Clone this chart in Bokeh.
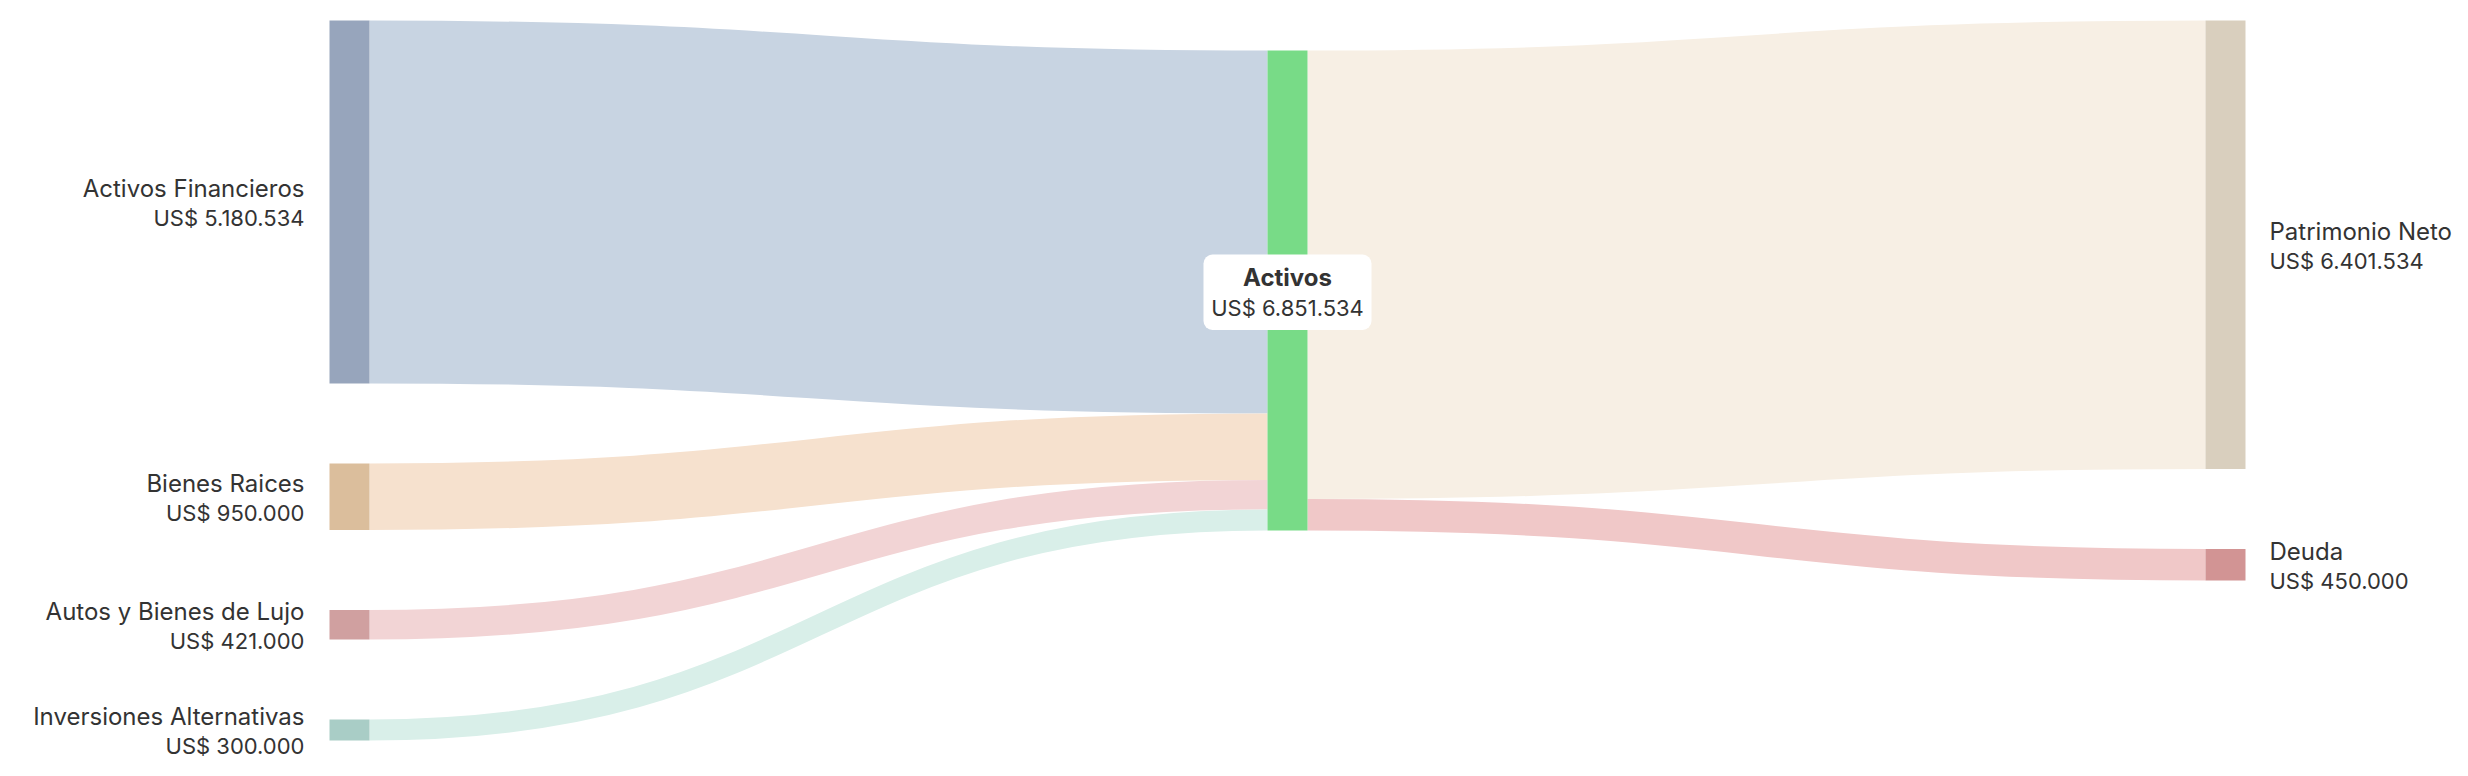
from bokeh.plotting import figure
from bokeh.models import Range1d, BoxAnnotation, ColumnDataSource
from bokeh.core.properties import value
from bokeh.embed import file_html
from bokeh.resources import INLINE

# ---- data ----
left_names = ["Activos Financieros", "Bienes Raices", "Autos y Bienes de Lujo", "Inversiones Alternativas"]
left_values = [5180534, 950000, 421000, 300000]
hub_name = "Activos"
right_names = ["Patrimonio Neto", "Deuda"]
right_values = [6401534, 450000]

left_node_colors = ["#97a5bc", "#dbbe9c", "#d0a0a0", "#a9cdc6"]
left_link_colors = ["#c8d4e2", "#f6e1ce", "#f2d4d5", "#d9efe9"]
hub_color = "#78db87"
right_node_colors = ["#d9cfbe", "#d29494"]
right_link_colors = ["#f7efe4", "#f0c8c8"]

# ---- layout (screen-like coordinates) ----
TOP, BOTTOM = 20, 740
PAD = 80
NODE_W = 40
COL_X = [329, 1267, 2205]
HUB_TOP = 50
FONT = value("Inter")
NAME_SIZE = "24px"
VAL_SIZE = "22px"
TXT = "#333333"
NAME_DY, VAL_DY = -13.5, 16.5


def fmt(v):
    return "US$ " + f"{v:,}".replace(",", ".")


total = sum(left_values)
k = (BOTTOM - TOP - PAD * (len(left_values) - 1)) / total


def stack(vals, top):
    y = top
    out = []
    for v in vals:
        h = v * k
        out.append((y, y + h))
        y = y + h + PAD
    return out


left_pos = stack(left_values, TOP)
right_pos = stack(right_values, TOP)
hub_pos = (HUB_TOP, HUB_TOP + total * k)

p = figure(width=2452, height=760, x_range=Range1d(0, 2452), y_range=Range1d(760, 0),
           output_backend="svg", toolbar_location=None, min_border=0,
           x_axis_location=None, y_axis_location=None)
p.grid.visible = False
p.outline_line_color = None
p.background_fill_color = "white"
p.border_fill_color = "white"

# ---- links ----
lx0, lx1, ly0, ly1, lcx0, lcx1, lcy0, lcy1, lw, lc = [], [], [], [], [], [], [], [], [], []
y_in = hub_pos[0]
for (a, b), v, c in zip(left_pos, left_values, left_link_colors):
    w = v * k
    xs = COL_X[0] + NODE_W
    xt = COL_X[1]
    ys = (a + b) / 2
    yt = y_in + w / 2
    y_in += w
    xm = (xs + xt) / 2
    lx0.append(xs); lx1.append(xt); ly0.append(ys); ly1.append(yt)
    lcx0.append(xm); lcx1.append(xm); lcy0.append(ys); lcy1.append(yt)
    lw.append(w); lc.append(c)

y_out = hub_pos[0]
for (a, b), v, c in zip(right_pos, right_values, right_link_colors):
    w = v * k
    xs = COL_X[1] + NODE_W
    xt = COL_X[2]
    ys = y_out + w / 2
    y_out += w
    yt = (a + b) / 2
    xm = (xs + xt) / 2
    lx0.append(xs); lx1.append(xt); ly0.append(ys); ly1.append(yt)
    lcx0.append(xm); lcx1.append(xm); lcy0.append(ys); lcy1.append(yt)
    lw.append(w); lc.append(c)

links = ColumnDataSource(dict(x0=lx0, y0=ly0, x1=lx1, y1=ly1, cx0=lcx0, cy0=lcy0,
                              cx1=lcx1, cy1=lcy1, w=lw, c=lc))
p.bezier(x0="x0", y0="y0", x1="x1", y1="y1", cx0="cx0", cy0="cy0", cx1="cx1", cy1="cy1",
         line_width="w", line_color="c", line_cap="butt", source=links)

# ---- nodes ----
nl, nr, nt, nb, nc = [], [], [], [], []
for (a, b), c in zip(left_pos, left_node_colors):
    nl.append(COL_X[0]); nr.append(COL_X[0] + NODE_W); nt.append(a); nb.append(b); nc.append(c)
nl.append(COL_X[1]); nr.append(COL_X[1] + NODE_W); nt.append(hub_pos[0]); nb.append(hub_pos[1]); nc.append(hub_color)
for (a, b), c in zip(right_pos, right_node_colors):
    nl.append(COL_X[2]); nr.append(COL_X[2] + NODE_W); nt.append(a); nb.append(b); nc.append(c)
p.quad(left=nl, right=nr, top=nt, bottom=nb, fill_color=nc, line_color=None)

# ---- labels ----
nx, ny, nt_, na = [], [], [], []
vx, vy, vt, va = [], [], [], []
for (a, b), n, v in zip(left_pos, left_names, left_values):
    cy = (a + b) / 2
    nx.append(COL_X[0] - 25); ny.append(cy + NAME_DY); nt_.append(n); na.append("right")
    vx.append(COL_X[0] - 25); vy.append(cy + VAL_DY); vt.append(fmt(v)); va.append("right")
for (a, b), n, v in zip(right_pos, right_names, right_values):
    cy = (a + b) / 2
    nx.append(COL_X[2] + NODE_W + 24); ny.append(cy + NAME_DY); nt_.append(n); na.append("left")
    vx.append(COL_X[2] + NODE_W + 24); vy.append(cy + VAL_DY); vt.append(fmt(v)); va.append("left")
p.text(x=nx, y=ny, text=nt_, text_align=na, text_baseline="alphabetic",
       text_font=FONT, text_font_size=NAME_SIZE, text_color=TXT)
p.text(x=vx, y=vy, text=vt, text_align=va, text_baseline="alphabetic",
       text_font=FONT, text_font_size=VAL_SIZE, text_color=TXT)

# hub label with box
hcx = COL_X[1] + NODE_W / 2
hcy = (hub_pos[0] + hub_pos[1]) / 2
box = BoxAnnotation(left=hcx - 84, right=hcx + 84, top=hcy - 36, bottom=hcy + 39.5,
                    fill_color="white", fill_alpha=1.0, line_color=None, border_radius=9)
p.add_layout(box)
r1 = p.text(x=[hcx], y=[hcy + NAME_DY + 0.5], text=[hub_name], text_align="center",
            text_baseline="alphabetic", text_font=FONT, text_font_size=NAME_SIZE,
            text_font_style="bold", text_color=TXT)
r2 = p.text(x=[hcx], y=[hcy + VAL_DY + 0.5], text=[fmt(total)], text_align="center",
            text_baseline="alphabetic", text_font=FONT, text_font_size=VAL_SIZE, text_color=TXT)
r1.level = "overlay"
r2.level = "overlay"

open("out.html", "w").write(file_html(p, INLINE))
